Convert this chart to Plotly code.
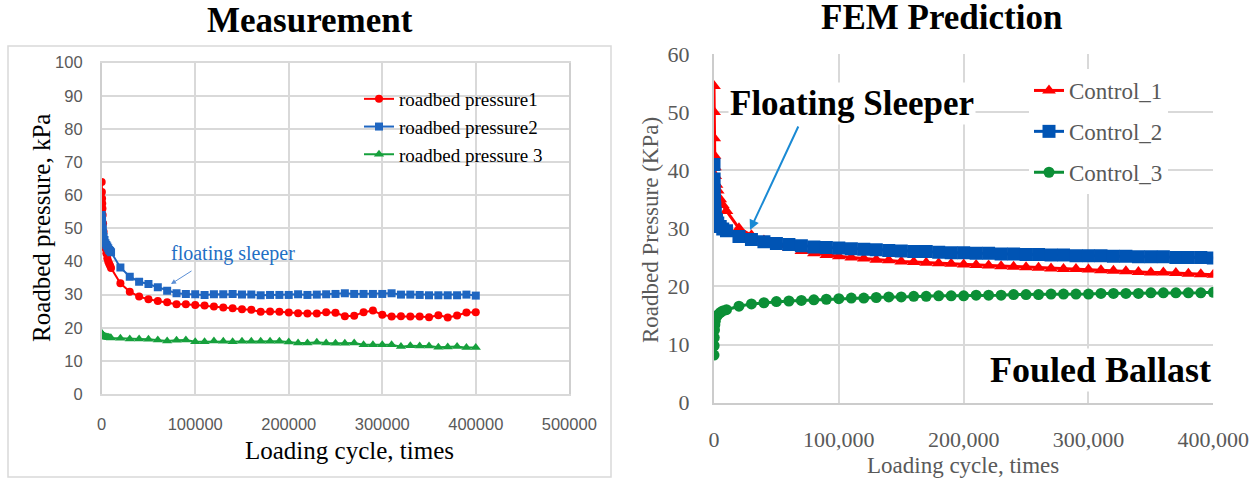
import plotly.graph_objects as go

# ---------------- Measurement (left) ----------------
meas_cycles = [0, 200, 400, 600, 800, 1000, 1500, 2000, 3000, 4000, 5000, 6000, 7000, 8000, 9000,
               10000, 20000, 30000, 40000, 50000, 60000, 70000, 80000, 90000, 100000,
               110000, 120000, 130000, 140000, 150000, 160000, 170000, 180000, 190000, 200000,
               210000, 220000, 230000, 240000, 250000, 260000, 270000, 280000, 290000, 300000,
               310000, 320000, 330000, 340000, 350000, 360000, 370000, 380000, 390000, 400000]

meas_p1 = [64, 61, 59, 57.5, 56, 54, 51.5, 49, 46, 44, 42.5, 41, 40, 39.3, 38.7,
           38.0, 33.4, 30.9, 29.4, 28.6, 28.1, 27.7, 27.1, 27.1, 26.9,
           26.7, 26.4, 26.1, 25.9, 25.6, 25.4, 24.8, 24.9, 24.8, 24.6,
           24.4, 24.3, 24.3, 24.7, 24.5, 23.5, 23.6, 24.7, 25.2, 23.9,
           23.4, 23.5, 23.4, 23.4, 23.2, 23.8, 23.1, 23.7, 24.6, 24.7]

meas_p2 = [54, 53, 52, 51, 50, 49.5, 48.5, 47.5, 46.5, 45.5, 45, 44.5, 44, 43.5, 43.2,
           42.8, 38.2, 35.4, 33.9, 33.2, 32.2, 31.2, 30.4, 30.2, 30.1,
           29.9, 30.1, 30.1, 30.2, 30.0, 30.0, 29.8, 29.9, 29.9, 29.9,
           30.1, 29.9, 30.0, 30.1, 30.2, 30.4, 30.2, 30.2, 30.2, 30.2,
           30.4, 30.0, 30.0, 29.9, 29.8, 29.8, 29.8, 29.8, 30.0, 29.7]

meas_p3 = [18.3, 18.2, 18.0, 17.9, 17.8, 17.7, 17.6, 17.5, 17.4, 17.3, 17.2, 17.1, 17.1, 17.0, 17.0,
           16.9, 16.8, 16.6, 16.6, 16.5, 16.3, 16.0, 16.2, 16.3, 15.8,
           15.8, 16.0, 15.9, 15.8, 15.9, 15.9, 15.9, 15.9, 15.9, 15.7,
           15.4, 15.4, 15.6, 15.4, 15.3, 15.3, 15.4, 14.9, 14.9, 14.9,
           14.9, 14.3, 14.6, 14.5, 14.5, 14.1, 14.2, 14.3, 14.0, 14.0]

meas_names = ["roadbed pressure1", "roadbed pressure2", "roadbed pressure 3"]
meas_x_ticks = [0, 100000, 200000, 300000, 400000, 500000]
meas_y_ticks = [0, 10, 20, 30, 40, 50, 60, 70, 80, 90, 100]

# ---------------- FEM prediction (right) ----------------
fem_cycles = [0, 100, 200, 400, 700, 1000, 2000, 3000, 5000, 7000,
              10000, 20000, 30000, 40000, 50000, 60000, 70000, 80000, 90000, 100000,
              110000, 120000, 130000, 140000, 150000, 160000, 170000, 180000, 190000, 200000,
              210000, 220000, 230000, 240000, 250000, 260000, 270000, 280000, 290000, 300000,
              310000, 320000, 330000, 340000, 350000, 360000, 370000, 380000, 390000, 400000]

fem_c1 = [54.5, 50.0, 45.5, 42.5, 40.5, 39.0, 37.5, 36.5, 35.0, 34.0,
          33.0, 30.0, 28.8, 27.9, 27.2, 26.6, 26.1, 25.7, 25.4, 25.2,
          25.0, 24.8, 24.6, 24.5, 24.3, 24.2, 24.1, 24.0, 23.9, 23.8,
          23.7, 23.6, 23.5, 23.4, 23.3, 23.2, 23.1, 23.0, 23.0, 22.9,
          22.8, 22.7, 22.6, 22.5, 22.4, 22.4, 22.3, 22.2, 22.1, 22.0]

fem_c2 = [41.0, 38.5, 36.5, 34.8, 33.5, 32.6, 31.5, 30.9, 30.3, 29.9,
          29.6, 28.6, 28.1, 27.7, 27.4, 27.2, 27.0, 26.8, 26.7, 26.6,
          26.5, 26.4, 26.3, 26.2, 26.1, 26.0, 26.0, 25.9, 25.8, 25.8,
          25.7, 25.7, 25.6, 25.6, 25.5, 25.5, 25.4, 25.4, 25.3, 25.3,
          25.3, 25.2, 25.2, 25.1, 25.1, 25.1, 25.0, 25.0, 25.0, 24.9]

fem_c3 = [8.2, 9.8, 11.2, 12.5, 13.4, 14.0, 14.8, 15.1, 15.5, 15.8,
          16.0, 16.6, 17.0, 17.2, 17.4, 17.5, 17.6, 17.7, 17.8, 17.9,
          18.0, 18.0, 18.1, 18.2, 18.2, 18.3, 18.3, 18.4, 18.4, 18.4,
          18.5, 18.5, 18.5, 18.6, 18.6, 18.6, 18.7, 18.7, 18.7, 18.7,
          18.8, 18.8, 18.8, 18.8, 18.9, 18.9, 18.9, 18.9, 18.9, 19.0]

fem_names = ["Control_1", "Control_2", "Control_3"]
fem_x_ticks = [0, 100000, 200000, 300000, 400000]
fem_y_ticks = [0, 10, 20, 30, 40, 50, 60]

W, H = 1258, 483
SERIF = "Liberation Serif, Times New Roman, serif"
SANS = "Liberation Sans, Arial, sans-serif"
GRID = "#d9d9d9"
GRAYTXT = "#595959"


def px(x):
    return x / W


def py(y):
    return 1 - y / H


fig = go.Figure()

meas_colors = ["#ff0000", "#1f66c1", "#16a03c"]
meas_symbols = ["circle", "square", "triangle-up"]
meas_sizes = [8, 8, 9]
for i, ys in enumerate([meas_p1, meas_p2, meas_p3]):
    fig.add_trace(go.Scatter(
        x=meas_cycles, y=ys, name=meas_names[i], mode="lines+markers",
        line=dict(color=meas_colors[i], width=2),
        marker=dict(symbol=meas_symbols[i], size=meas_sizes[i], color=meas_colors[i]),
        xaxis="x", yaxis="y", legend="legend", legendgroup="m%d" % i))

fem_colors = ["#ff0000", "#0054b4", "#0b8f36"]
fem_symbols = ["triangle-up", "square", "circle"]
fem_sizes = [12, 13, 11]
for i, ys in enumerate([fem_c1, fem_c2, fem_c3]):
    fig.add_trace(go.Scatter(
        x=fem_cycles, y=ys, name=fem_names[i], mode="lines+markers",
        line=dict(color=fem_colors[i], width=3),
        marker=dict(symbol=fem_symbols[i], size=fem_sizes[i], color=fem_colors[i]),
        xaxis="x2", yaxis="y2", legend="legend2", legendgroup="f%d" % i))

fig.update_layout(
    width=W, height=H,
    margin=dict(l=0, r=0, t=0, b=0, autoexpand=False),
    paper_bgcolor="white", plot_bgcolor="white",
    showlegend=True,
    xaxis=dict(domain=[px(101.7), px(569.3)], range=[0, 500000], tickvals=meas_x_ticks,
               tickformat="d", showgrid=True, gridcolor=GRID, gridwidth=1.5,
               showline=True, linecolor=GRID, linewidth=1.5, mirror=True, zeroline=False,
               ticks="", ticklabelstandoff=14,
               tickfont=dict(family=SANS, size=16.5, color=GRAYTXT),
               anchor="y"),
    yaxis=dict(domain=[py(394), py(62.7)], range=[0, 100], tickvals=meas_y_ticks,
               showgrid=True, gridcolor=GRID, gridwidth=1.5,
               showline=True, linecolor="#cfcfcf", linewidth=1.5, mirror=True, zeroline=False,
               ticks="", ticklabelstandoff=14,
               tickfont=dict(family=SANS, size=16.5, color=GRAYTXT),
               anchor="x"),
    xaxis2=dict(domain=[px(714), px(1213.3)], range=[0, 400000], tickvals=fem_x_ticks,
                tickformat=",d", showgrid=True, gridcolor=GRID, gridwidth=1.5,
                showline=True, linecolor="#cccccc", linewidth=2, mirror=False, zeroline=False,
                ticks="", ticklabelstandoff=16,
                tickfont=dict(family=SERIF, size=22, color=GRAYTXT),
                anchor="y2"),
    yaxis2=dict(domain=[py(402.7), py(54)], range=[0, 60], tickvals=fem_y_ticks,
                showgrid=True, gridcolor=GRID, gridwidth=1.5,
                showline=True, linecolor="#cccccc", linewidth=2, mirror=False, zeroline=False,
                ticks="", ticklabelstandoff=18,
                tickfont=dict(family=SERIF, size=22, color=GRAYTXT),
                anchor="x2"),
    legend=dict(x=px(359), y=py(80), xanchor="left", yanchor="top",
                bgcolor="rgba(0,0,0,0)", borderwidth=0, traceorder="grouped",
                tracegroupgap=0, font=dict(family=SERIF, size=19, color="black")),
    legend2=dict(x=px(1029), y=py(69), xanchor="left", yanchor="top",
                 bgcolor="white", borderwidth=0, traceorder="grouped",
                 tracegroupgap=8, font=dict(family=SERIF, size=23, color=GRAYTXT)),
)

# outer border of the measurement chart
fig.add_shape(type="rect", xref="paper", yref="paper",
              x0=px(8), x1=px(611), y0=py(477), y1=py(46),
              line=dict(color="#d9d9d9", width=1.5), layer="below")


def label(text, x, y, size, color="black", angle=0, bg=None):
    d = dict(text=text, x=px(x), y=py(y), xref="paper", yref="paper",
             xanchor="center", yanchor="middle", showarrow=False, textangle=angle,
             font=dict(family=SERIF, size=size, color=color))
    if bg:
        d["bgcolor"] = bg
    return d


def arrow(x_tail, y_tail, x_tip, y_tip, width, color):
    return dict(text="", x=px(x_tip), y=py(y_tip), xref="paper", yref="paper",
                ax=x_tail - x_tip, ay=y_tail - y_tip, showarrow=True, arrowhead=2,
                arrowsize=1, arrowwidth=width, arrowcolor=color, standoff=0)


ann = [
    label("<b>Measurement</b>", 310, 21, 35),
    label("<b>FEM Prediction</b>", 941, 17, 35),
    label("Loading cycle, times", 350, 450, 25),
    label("Roadbed pressure, kPa", 41, 228, 25, angle=-90),
    label("Loading cycle, times", 963, 465, 23, GRAYTXT),
    label("Roadbed Pressure (KPa)", 650, 230, 23, GRAYTXT, angle=-90),
    label("floating sleeper", 233, 253, 20, "#1f6fc5"),
    arrow(193, 270, 171, 284, 1, "#5b8fd6"),
    label("<b>Floating Sleeper</b>", 852, 103, 35, bg="white"),
    arrow(799, 125, 750, 230, 2, "#1a8ad4"),
    label("<b>Fouled Ballast</b>", 1100, 370, 36, bg="white"),
]
fig.update_layout(annotations=ann)

fig.write_html("out.html", config={"displayModeBar": False},
               post_script="document.body.style.margin='0';")
